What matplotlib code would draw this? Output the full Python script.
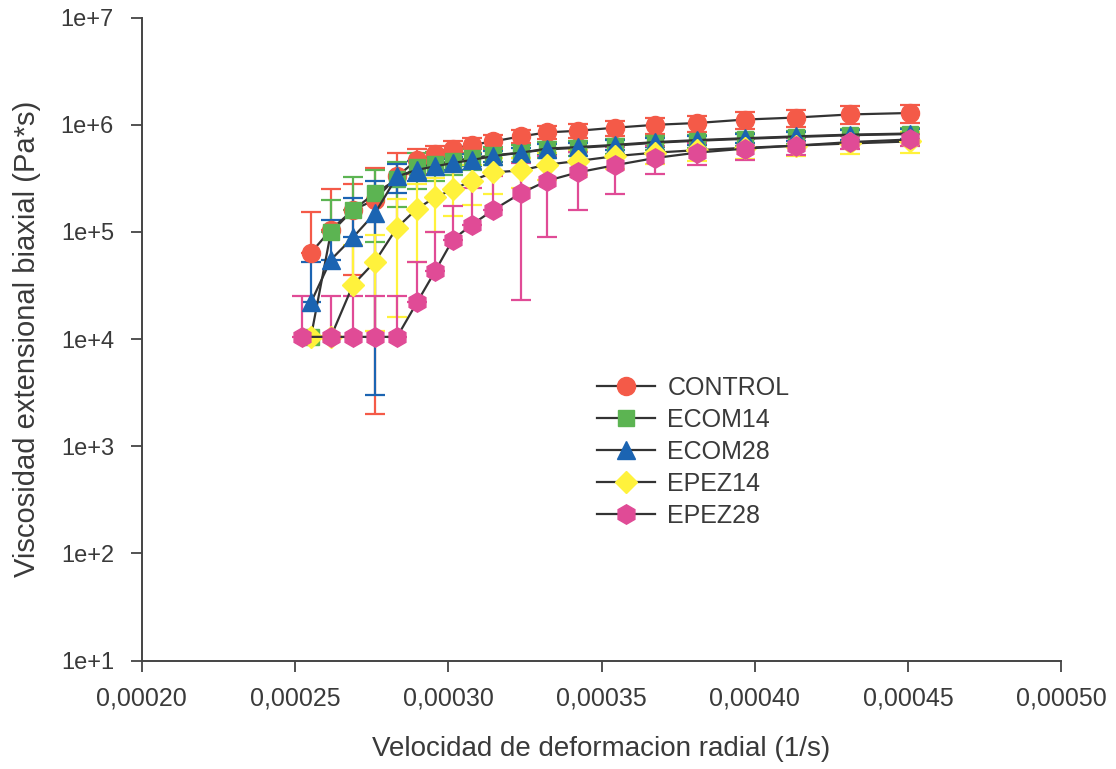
import numpy as np
import matplotlib
matplotlib.use("Agg")
import matplotlib.pyplot as plt
from matplotlib.ticker import FixedLocator, NullLocator

# strain rate (1/s), shared by most series
rate = [0.0002552, 0.0002617, 0.0002689, 0.0002761, 0.0002833, 0.0002898,
        0.0002957, 0.0003015, 0.0003077, 0.0003146, 0.0003237, 0.0003322,
        0.0003423, 0.0003544, 0.0003674, 0.0003811, 0.0003968, 0.0004134,
        0.0004310, 0.0004506]
rate_epez28 = [0.0002523] + rate[1:]

control = [6.4e4, 1.05e5, 1.6e5, 2.0e5, 3.3e5, 4.7e5, 5.3e5, 6.0e5, 6.5e5,
           7.0e5, 7.8e5, 8.5e5, 8.8e5, 9.4e5, 1.0e6, 1.04e6, 1.12e6, 1.17e6,
           1.25e6, 1.29e6]
control_err = [9.1e4, 1.45e5, 1.2e5, 1.98e5, 2.2e5, 1.2e5, 1.0e5, 1.0e5,
               1.0e5, 1.0e5, 1.1e5, 1.2e5, 1.3e5, 1.5e5, 1.7e5, 1.8e5, 2.0e5,
               2.2e5, 2.4e5, 2.5e5]

ecom14 = [1.05e4, 9.9e4, 1.6e5, 2.3e5, 3.1e5, 4.0e5, 4.3e5, 4.6e5, 4.9e5,
          5.2e5, 5.5e5, 5.9e5, 6.1e5, 6.4e5, 6.8e5, 7.1e5, 7.4e5, 7.7e5,
          8.0e5, 8.2e5]
ecom14_err = [0, 1.0e5, 1.64e5, 1.5e5, 1.4e5, 1.5e5, 1.3e5, 1.2e5, 1.1e5,
              1.0e5, 1.0e5, 1.0e5, 1.0e5, 1.0e5, 1.0e5, 1.0e5, 1.0e5, 1.1e5,
              1.1e5, 1.2e5]

ecom28 = [2.2e4, 5.5e4, 8.9e4, 1.5e5, 3.3e5, 3.8e5, 4.1e5, 4.4e5, 4.7e5,
          5.1e5, 5.5e5, 6.0e5, 6.2e5, 6.5e5, 6.9e5, 7.2e5, 7.5e5, 7.8e5,
          8.1e5, 8.3e5]
ecom28_err = [3.0e4, 7.3e4, 1.2e5, 1.47e5, 1.0e5, 8e4, 7e4, 6e4, 6e4, 6e4,
              6e4, 6e4, 6e4, 7e4, 7e4, 7e4, 8e4, 8e4, 9e4, 9e4]

epez14 = [1.05e4, 1.05e4, 3.2e4, 5.3e4, 1.1e5, 1.65e5, 2.1e5, 2.5e5, 3.0e5,
          3.6e5, 3.75e5, 4.25e5, 4.6e5, 5.1e5, 5.5e5, 5.8e5, 6.1e5, 6.4e5,
          6.7e5, 7.0e5]
epez14_err = [0, 0, 4.4e4, 4.1e4, 9.4e4, 1.13e5, 1.1e5, 1.1e5, 1.2e5, 1.35e5,
              1.2e5, 1.2e5, 1.2e5, 1.2e5, 1.2e5, 1.2e5, 1.3e5, 1.3e5, 1.4e5,
              1.5e5]

epez28 = [1.05e4, 1.05e4, 1.05e4, 1.05e4, 1.05e4, 2.2e4, 4.3e4, 8.5e4,
          1.17e5, 1.6e5, 2.3e5, 3.0e5, 3.6e5, 4.2e5, 4.9e5, 5.5e5, 6.0e5,
          6.4e5, 6.9e5, 7.3e5]
epez28_err = [1.5e4, 1.5e4, 1.5e4, 1.5e4, 1.5e4, 3.0e4, 5.8e4, 8.8e4, 1.4e5,
              1.7e5, 2.07e5, 2.1e5, 2.0e5, 1.95e5, 1.4e5, 1.3e5, 1.35e5,
              1.2e5, 1.0e5, 1.0e5]

labels = ["CONTROL", "ECOM14", "ECOM28", "EPEZ14", "EPEZ28"]

y_ticks = [1e1, 1e2, 1e3, 1e4, 1e5, 1e6, 1e7]
y_labels = ["1e+1", "1e+2", "1e+3", "1e+4", "1e+5", "1e+6", "1e+7"]
x_ticks = [0.00020, 0.00025, 0.00030, 0.00035, 0.00040, 0.00045, 0.00050]
x_labels = ["0,00020", "0,00025", "0,00030", "0,00035", "0,00040",
            "0,00045", "0,00050"]

TEXT = "#3a3a3a"
LINE = "#333333"


def plot_series(ax, x, y, err, marker, color, ms):
    y = np.asarray(y)
    err = np.asarray(err)
    # lower bar is dropped when it would go below zero (log axis)
    lower = np.where(y - err > 0, err, 0)
    cont = ax.errorbar(x, y, yerr=[lower, err], fmt="-", marker=marker,
                       color=LINE, lw=1.6, ms=ms, mfc=color, mec=color,
                       ecolor=color, elinewidth=1.6, capsize=7, capthick=1.6)
    return cont[0]


def main():
    plt.rcParams["font.family"] = ["Liberation Sans", "DejaVu Sans"]
    fig = plt.figure(figsize=(11.16, 7.69), dpi=100)
    ax = fig.add_axes([0.127, 0.141, 0.824, 0.836])

    handles = []
    handles.append(plot_series(ax, rate, control, control_err,
                               "o", "#f45a48", 13))
    handles.append(plot_series(ax, rate, ecom14, ecom14_err,
                               "s", "#5cb452", 11))
    handles.append(plot_series(ax, rate, ecom28, ecom28_err,
                               "^", "#1b64b2", 13))
    handles.append(plot_series(ax, rate, epez14, epez14_err,
                               "D", "#fff23c", 11))
    handles.append(plot_series(ax, rate_epez28, epez28, epez28_err,
                               "h", "#e04b96", 14))

    ax.set_yscale("log")
    ax.set_ylim(1e1, 1e7)
    ax.set_xlim(0.00020, 0.00050)
    ax.yaxis.set_major_locator(FixedLocator(y_ticks))
    ax.yaxis.set_minor_locator(NullLocator())
    ax.set_yticklabels(y_labels)
    ax.set_xticks(x_ticks)
    ax.set_xticklabels(x_labels)

    for side in ["top", "right"]:
        ax.spines[side].set_visible(False)
    for side in ["left", "bottom"]:
        ax.spines[side].set_color("#444444")
        ax.spines[side].set_linewidth(1.4)
    ax.tick_params(direction="out", length=8, width=1.3, color="#444444",
                   labelcolor=TEXT)
    ax.tick_params(axis="x", labelsize=18, pad=11)
    ax.tick_params(axis="y", labelsize=17, pad=12)

    ax.set_xlabel("Velocidad de deformacion radial (1/s)", fontsize=20,
                  color=TEXT, labelpad=18)
    ax.set_ylabel("Viscosidad extensional biaxial (Pa*s)", fontsize=21,
                  color=TEXT, labelpad=14)

    ax.legend(handles, labels, loc="upper left",
              bbox_to_anchor=(0.482, 0.462), frameon=False, fontsize=18,
              handlelength=2.3, handletextpad=0.5, labelspacing=0.32,
              borderpad=0, labelcolor=TEXT)

    fig.savefig("out.png", dpi=100)


if __name__ == "__main__":
    main()
